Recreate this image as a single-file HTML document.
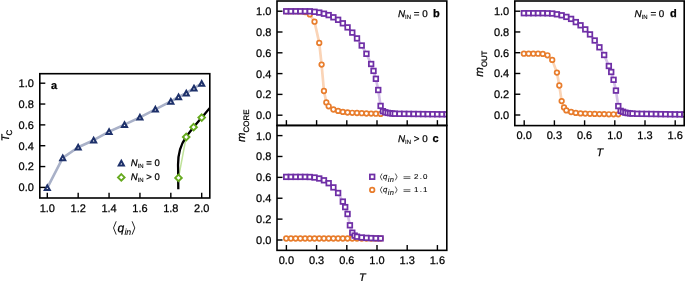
<!DOCTYPE html>
<html><head><meta charset="utf-8"><title>figure</title>
<style>
html,body{margin:0;padding:0;background:#fff;}
body{width:685px;height:281px;overflow:hidden;}
svg{display:block;will-change:transform;}
text{font-family:'Liberation Sans', sans-serif;fill:#000;stroke:#000;stroke-width:0.25px;text-rendering:geometricPrecision;}
</style></head><body>
<svg width="685" height="281" viewBox="0 0 685 281" font-family="Liberation Sans, sans-serif">
<clipPath id="ca"><rect x="39.8" y="73.7" width="170.0" height="124.3"/></clipPath>
<g clip-path="url(#ca)">
<polyline points="47.30,187.80 62.74,157.90 78.18,147.30 93.62,140.20 109.06,131.60 124.50,124.70 139.94,117.30 155.38,109.30 170.82,101.40 178.54,96.90 186.26,93.10 193.98,88.20 201.70,83.50" fill="none" stroke="#a9b1c8" stroke-width="2.6" stroke-linejoin="round" stroke-linecap="round"/>
<polyline points="178.50,177.90 186.20,137.00 193.60,127.20 201.70,117.60" fill="none" stroke="#bfe29a" stroke-width="1.5" stroke-linejoin="round" stroke-linecap="round"/>
<path d="M178.3,189.2 L178.1,168 C177.6,156 179.5,146 186.0,137.2 C188.5,133.6 191,130.2 193.6,127.2 C196.2,124 199,120.8 201.7,117.6 C204.5,114.3 207,111.2 210.5,107.2" fill="none" stroke="#000" stroke-width="2.3"/>
<path d="M47.30,185.45 L49.85,190.10 L44.75,190.10 Z" fill="#fff" stroke="#1d306a" stroke-width="2.0" stroke-linejoin="miter"/>
<path d="M62.74,155.55 L65.29,160.20 L60.19,160.20 Z" fill="#fff" stroke="#1d306a" stroke-width="2.0" stroke-linejoin="miter"/>
<path d="M78.18,144.95 L80.73,149.60 L75.63,149.60 Z" fill="#fff" stroke="#1d306a" stroke-width="2.0" stroke-linejoin="miter"/>
<path d="M93.62,137.85 L96.17,142.50 L91.07,142.50 Z" fill="#fff" stroke="#1d306a" stroke-width="2.0" stroke-linejoin="miter"/>
<path d="M109.06,129.25 L111.61,133.90 L106.51,133.90 Z" fill="#fff" stroke="#1d306a" stroke-width="2.0" stroke-linejoin="miter"/>
<path d="M124.50,122.35 L127.05,127.00 L121.95,127.00 Z" fill="#fff" stroke="#1d306a" stroke-width="2.0" stroke-linejoin="miter"/>
<path d="M139.94,114.95 L142.49,119.60 L137.39,119.60 Z" fill="#fff" stroke="#1d306a" stroke-width="2.0" stroke-linejoin="miter"/>
<path d="M155.38,106.95 L157.93,111.60 L152.83,111.60 Z" fill="#fff" stroke="#1d306a" stroke-width="2.0" stroke-linejoin="miter"/>
<path d="M170.82,99.05 L173.37,103.70 L168.27,103.70 Z" fill="#fff" stroke="#1d306a" stroke-width="2.0" stroke-linejoin="miter"/>
<path d="M178.54,94.55 L181.09,99.20 L175.99,99.20 Z" fill="#fff" stroke="#1d306a" stroke-width="2.0" stroke-linejoin="miter"/>
<path d="M186.26,90.75 L188.81,95.40 L183.71,95.40 Z" fill="#fff" stroke="#1d306a" stroke-width="2.0" stroke-linejoin="miter"/>
<path d="M193.98,85.85 L196.53,90.50 L191.43,90.50 Z" fill="#fff" stroke="#1d306a" stroke-width="2.0" stroke-linejoin="miter"/>
<path d="M201.70,81.15 L204.25,85.80 L199.15,85.80 Z" fill="#fff" stroke="#1d306a" stroke-width="2.0" stroke-linejoin="miter"/>
<path d="M178.50,174.60 L181.80,177.90 L178.50,181.20 L175.20,177.90 Z" fill="#fff" stroke="#66aa1f" stroke-width="1.9" stroke-linejoin="miter"/>
<path d="M186.20,133.70 L189.50,137.00 L186.20,140.30 L182.90,137.00 Z" fill="#fff" stroke="#66aa1f" stroke-width="1.9" stroke-linejoin="miter"/>
<path d="M193.60,123.90 L196.90,127.20 L193.60,130.50 L190.30,127.20 Z" fill="#fff" stroke="#66aa1f" stroke-width="1.9" stroke-linejoin="miter"/>
<path d="M201.70,114.30 L205.00,117.60 L201.70,120.90 L198.40,117.60 Z" fill="#fff" stroke="#66aa1f" stroke-width="1.9" stroke-linejoin="miter"/>
</g>
<rect x="39.8" y="73.7" width="170.00" height="124.30" fill="none" stroke="#000" stroke-width="1.6"/>
<line x1="39.80" y1="187.40" x2="45.30" y2="187.40" stroke="#000" stroke-width="1.4"/>
<text x="33.90" y="191.30" font-size="11" text-anchor="end" >0.0</text>
<line x1="39.80" y1="166.56" x2="45.30" y2="166.56" stroke="#000" stroke-width="1.4"/>
<text x="33.90" y="170.46" font-size="11" text-anchor="end" >0.2</text>
<line x1="39.80" y1="145.72" x2="45.30" y2="145.72" stroke="#000" stroke-width="1.4"/>
<text x="33.90" y="149.62" font-size="11" text-anchor="end" >0.4</text>
<line x1="39.80" y1="124.88" x2="45.30" y2="124.88" stroke="#000" stroke-width="1.4"/>
<text x="33.90" y="128.78" font-size="11" text-anchor="end" >0.6</text>
<line x1="39.80" y1="104.04" x2="45.30" y2="104.04" stroke="#000" stroke-width="1.4"/>
<text x="33.90" y="107.94" font-size="11" text-anchor="end" >0.8</text>
<line x1="39.80" y1="83.20" x2="45.30" y2="83.20" stroke="#000" stroke-width="1.4"/>
<text x="33.90" y="87.10" font-size="11" text-anchor="end" >1.0</text>
<line x1="47.30" y1="192.70" x2="47.30" y2="198.00" stroke="#000" stroke-width="1.4"/>
<text x="47.30" y="211.80" font-size="11" text-anchor="middle" >1.0</text>
<line x1="78.18" y1="192.70" x2="78.18" y2="198.00" stroke="#000" stroke-width="1.4"/>
<text x="78.18" y="211.80" font-size="11" text-anchor="middle" >1.2</text>
<line x1="109.06" y1="192.70" x2="109.06" y2="198.00" stroke="#000" stroke-width="1.4"/>
<text x="109.06" y="211.80" font-size="11" text-anchor="middle" >1.4</text>
<line x1="139.94" y1="192.70" x2="139.94" y2="198.00" stroke="#000" stroke-width="1.4"/>
<text x="139.94" y="211.80" font-size="11" text-anchor="middle" >1.6</text>
<line x1="170.82" y1="192.70" x2="170.82" y2="198.00" stroke="#000" stroke-width="1.4"/>
<text x="170.82" y="211.80" font-size="11" text-anchor="middle" >1.8</text>
<line x1="201.70" y1="192.70" x2="201.70" y2="198.00" stroke="#000" stroke-width="1.4"/>
<text x="201.70" y="211.80" font-size="11" text-anchor="middle" >2.0</text>
<text x="51.00" y="88.70" font-size="11" text-anchor="start" font-weight="bold">a</text>
<path d="M121.30,160.85 L123.85,165.50 L118.75,165.50 Z" fill="#fff" stroke="#1d306a" stroke-width="2.0" stroke-linejoin="miter"/>
<path d="M121.30,174.10 L124.60,177.40 L121.30,180.70 L118.00,177.40 Z" fill="#fff" stroke="#66aa1f" stroke-width="1.9" stroke-linejoin="miter"/>
<text x="130.80" y="165.50" font-size="9.5"><tspan font-style="italic">N</tspan><tspan font-size="6" dy="2.2" style="stroke-width:0.12px">IN</tspan><tspan dy="-2.2"> = 0</tspan></text>
<text x="130.80" y="179.90" font-size="9.5"><tspan font-style="italic">N</tspan><tspan font-size="6" dy="2.2" style="stroke-width:0.12px">IN</tspan><tspan dy="-2.2"> &gt; 0</tspan></text>
<text transform="translate(8.6,141.3) rotate(-90)" font-size="11"><tspan font-style="italic">T</tspan><tspan font-size="8" dy="3.0" dx="-0.9">C</tspan></text>
<polyline points="116.20,221.30 113.50,227.95 116.20,234.60" fill="none" stroke="#000" stroke-width="0.85"/>
<polyline points="132.10,221.30 134.80,227.95 132.10,234.60" fill="none" stroke="#000" stroke-width="0.85"/>
<text x="117.4" y="231.7" font-size="12"><tspan font-style="italic">q</tspan><tspan font-style="italic" font-size="8.8" dy="3.0" dx="0.3" style="stroke-width:0.1px">in</tspan></text>
<clipPath id="cb"><rect x="277.0" y="1.0" width="169.80" height="124.45"/></clipPath>
<g clip-path="url(#cb)">
<polyline points="286.20,11.30 290.92,11.30 295.64,11.30 300.36,11.40 305.08,12.00 309.80,14.40 314.52,21.70 319.24,42.90 321.60,64.60 323.96,91.00 326.32,102.40 328.68,106.30 333.40,109.50 338.12,110.90 342.84,111.90 347.56,112.50 352.28,112.80 357.00,113.00 361.72,113.20 366.44,113.50 371.16,113.60 375.88,113.70 380.60,113.90" fill="none" stroke="#fad4b7" stroke-width="2.7" stroke-linejoin="round" stroke-linecap="round"/>
<circle cx="286.20" cy="11.30" r="2.3" fill="#fff" stroke="#e87d2d" stroke-width="1.7"/>
<circle cx="290.92" cy="11.30" r="2.3" fill="#fff" stroke="#e87d2d" stroke-width="1.7"/>
<circle cx="295.64" cy="11.30" r="2.3" fill="#fff" stroke="#e87d2d" stroke-width="1.7"/>
<circle cx="300.36" cy="11.40" r="2.3" fill="#fff" stroke="#e87d2d" stroke-width="1.7"/>
<circle cx="305.08" cy="12.00" r="2.3" fill="#fff" stroke="#e87d2d" stroke-width="1.7"/>
<circle cx="309.80" cy="14.40" r="2.3" fill="#fff" stroke="#e87d2d" stroke-width="1.7"/>
<circle cx="314.52" cy="21.70" r="2.3" fill="#fff" stroke="#e87d2d" stroke-width="1.7"/>
<circle cx="319.24" cy="42.90" r="2.3" fill="#fff" stroke="#e87d2d" stroke-width="1.7"/>
<circle cx="321.60" cy="64.60" r="2.3" fill="#fff" stroke="#e87d2d" stroke-width="1.7"/>
<circle cx="323.96" cy="91.00" r="2.3" fill="#fff" stroke="#e87d2d" stroke-width="1.7"/>
<circle cx="326.32" cy="102.40" r="2.3" fill="#fff" stroke="#e87d2d" stroke-width="1.7"/>
<circle cx="328.68" cy="106.30" r="2.3" fill="#fff" stroke="#e87d2d" stroke-width="1.7"/>
<circle cx="333.40" cy="109.50" r="2.3" fill="#fff" stroke="#e87d2d" stroke-width="1.7"/>
<circle cx="338.12" cy="110.90" r="2.3" fill="#fff" stroke="#e87d2d" stroke-width="1.7"/>
<circle cx="342.84" cy="111.90" r="2.3" fill="#fff" stroke="#e87d2d" stroke-width="1.7"/>
<circle cx="347.56" cy="112.50" r="2.3" fill="#fff" stroke="#e87d2d" stroke-width="1.7"/>
<circle cx="352.28" cy="112.80" r="2.3" fill="#fff" stroke="#e87d2d" stroke-width="1.7"/>
<circle cx="357.00" cy="113.00" r="2.3" fill="#fff" stroke="#e87d2d" stroke-width="1.7"/>
<circle cx="361.72" cy="113.20" r="2.3" fill="#fff" stroke="#e87d2d" stroke-width="1.7"/>
<circle cx="366.44" cy="113.50" r="2.3" fill="#fff" stroke="#e87d2d" stroke-width="1.7"/>
<circle cx="371.16" cy="113.60" r="2.3" fill="#fff" stroke="#e87d2d" stroke-width="1.7"/>
<circle cx="375.88" cy="113.70" r="2.3" fill="#fff" stroke="#e87d2d" stroke-width="1.7"/>
<circle cx="380.60" cy="113.90" r="2.3" fill="#fff" stroke="#e87d2d" stroke-width="1.7"/>
</g>
<g clip-path="url(#cb)">
<polyline points="286.20,11.30 290.92,11.30 295.64,11.30 300.36,11.30 305.08,11.30 309.80,11.30 314.52,11.80 319.24,12.60 323.96,13.70 328.68,15.10 333.40,17.30 338.12,19.80 342.84,23.30 347.56,27.40 352.28,32.60 357.00,38.40 361.72,45.50 366.44,53.80 371.16,64.00 373.52,70.90 375.88,78.80 378.24,90.00 380.60,105.90 382.96,111.20 385.32,112.30 387.68,112.90 390.04,113.20 392.40,113.50 394.76,113.70 399.48,113.80 404.20,113.86 408.92,113.91 413.64,113.97 418.36,114.02 423.08,114.08 427.80,114.13 432.52,114.19 437.24,114.24 441.96,114.30 446.68,114.30 451.40,114.30" fill="none" stroke="#d3bfe6" stroke-width="2.7" stroke-linejoin="round" stroke-linecap="round"/>
<rect x="283.90" y="9.00" width="4.6" height="4.6" fill="#fff" stroke="#6f2fa6" stroke-width="1.75"/>
<rect x="288.62" y="9.00" width="4.6" height="4.6" fill="#fff" stroke="#6f2fa6" stroke-width="1.75"/>
<rect x="293.34" y="9.00" width="4.6" height="4.6" fill="#fff" stroke="#6f2fa6" stroke-width="1.75"/>
<rect x="298.06" y="9.00" width="4.6" height="4.6" fill="#fff" stroke="#6f2fa6" stroke-width="1.75"/>
<rect x="302.78" y="9.00" width="4.6" height="4.6" fill="#fff" stroke="#6f2fa6" stroke-width="1.75"/>
<rect x="307.50" y="9.00" width="4.6" height="4.6" fill="#fff" stroke="#6f2fa6" stroke-width="1.75"/>
<rect x="312.22" y="9.50" width="4.6" height="4.6" fill="#fff" stroke="#6f2fa6" stroke-width="1.75"/>
<rect x="316.94" y="10.30" width="4.6" height="4.6" fill="#fff" stroke="#6f2fa6" stroke-width="1.75"/>
<rect x="321.66" y="11.40" width="4.6" height="4.6" fill="#fff" stroke="#6f2fa6" stroke-width="1.75"/>
<rect x="326.38" y="12.80" width="4.6" height="4.6" fill="#fff" stroke="#6f2fa6" stroke-width="1.75"/>
<rect x="331.10" y="15.00" width="4.6" height="4.6" fill="#fff" stroke="#6f2fa6" stroke-width="1.75"/>
<rect x="335.82" y="17.50" width="4.6" height="4.6" fill="#fff" stroke="#6f2fa6" stroke-width="1.75"/>
<rect x="340.54" y="21.00" width="4.6" height="4.6" fill="#fff" stroke="#6f2fa6" stroke-width="1.75"/>
<rect x="345.26" y="25.10" width="4.6" height="4.6" fill="#fff" stroke="#6f2fa6" stroke-width="1.75"/>
<rect x="349.98" y="30.30" width="4.6" height="4.6" fill="#fff" stroke="#6f2fa6" stroke-width="1.75"/>
<rect x="354.70" y="36.10" width="4.6" height="4.6" fill="#fff" stroke="#6f2fa6" stroke-width="1.75"/>
<rect x="359.42" y="43.20" width="4.6" height="4.6" fill="#fff" stroke="#6f2fa6" stroke-width="1.75"/>
<rect x="364.14" y="51.50" width="4.6" height="4.6" fill="#fff" stroke="#6f2fa6" stroke-width="1.75"/>
<rect x="368.86" y="61.70" width="4.6" height="4.6" fill="#fff" stroke="#6f2fa6" stroke-width="1.75"/>
<rect x="371.22" y="68.60" width="4.6" height="4.6" fill="#fff" stroke="#6f2fa6" stroke-width="1.75"/>
<rect x="373.58" y="76.50" width="4.6" height="4.6" fill="#fff" stroke="#6f2fa6" stroke-width="1.75"/>
<rect x="375.94" y="87.70" width="4.6" height="4.6" fill="#fff" stroke="#6f2fa6" stroke-width="1.75"/>
<rect x="378.30" y="103.60" width="4.6" height="4.6" fill="#fff" stroke="#6f2fa6" stroke-width="1.75"/>
<rect x="380.66" y="108.90" width="4.6" height="4.6" fill="#fff" stroke="#6f2fa6" stroke-width="1.75"/>
<rect x="383.02" y="110.00" width="4.6" height="4.6" fill="#fff" stroke="#6f2fa6" stroke-width="1.75"/>
<rect x="385.38" y="110.60" width="4.6" height="4.6" fill="#fff" stroke="#6f2fa6" stroke-width="1.75"/>
<rect x="387.74" y="110.90" width="4.6" height="4.6" fill="#fff" stroke="#6f2fa6" stroke-width="1.75"/>
<rect x="390.10" y="111.20" width="4.6" height="4.6" fill="#fff" stroke="#6f2fa6" stroke-width="1.75"/>
<rect x="392.46" y="111.40" width="4.6" height="4.6" fill="#fff" stroke="#6f2fa6" stroke-width="1.75"/>
<rect x="397.18" y="111.50" width="4.6" height="4.6" fill="#fff" stroke="#6f2fa6" stroke-width="1.75"/>
<rect x="401.90" y="111.56" width="4.6" height="4.6" fill="#fff" stroke="#6f2fa6" stroke-width="1.75"/>
<rect x="406.62" y="111.61" width="4.6" height="4.6" fill="#fff" stroke="#6f2fa6" stroke-width="1.75"/>
<rect x="411.34" y="111.67" width="4.6" height="4.6" fill="#fff" stroke="#6f2fa6" stroke-width="1.75"/>
<rect x="416.06" y="111.72" width="4.6" height="4.6" fill="#fff" stroke="#6f2fa6" stroke-width="1.75"/>
<rect x="420.78" y="111.78" width="4.6" height="4.6" fill="#fff" stroke="#6f2fa6" stroke-width="1.75"/>
<rect x="425.50" y="111.83" width="4.6" height="4.6" fill="#fff" stroke="#6f2fa6" stroke-width="1.75"/>
<rect x="430.22" y="111.89" width="4.6" height="4.6" fill="#fff" stroke="#6f2fa6" stroke-width="1.75"/>
<rect x="434.94" y="111.94" width="4.6" height="4.6" fill="#fff" stroke="#6f2fa6" stroke-width="1.75"/>
<rect x="439.66" y="112.00" width="4.6" height="4.6" fill="#fff" stroke="#6f2fa6" stroke-width="1.75"/>
<rect x="444.38" y="112.00" width="4.6" height="4.6" fill="#fff" stroke="#6f2fa6" stroke-width="1.75"/>
<rect x="449.10" y="112.00" width="4.6" height="4.6" fill="#fff" stroke="#6f2fa6" stroke-width="1.75"/>
</g>
<rect x="277.0" y="1.0" width="169.80" height="124.45" fill="none" stroke="#000" stroke-width="1.6"/>
<line x1="277.00" y1="115.20" x2="282.50" y2="115.20" stroke="#000" stroke-width="1.4"/>
<text x="271.40" y="119.10" font-size="11" text-anchor="end" >0.0</text>
<line x1="277.00" y1="94.40" x2="282.50" y2="94.40" stroke="#000" stroke-width="1.4"/>
<text x="271.40" y="98.30" font-size="11" text-anchor="end" >0.2</text>
<line x1="277.00" y1="73.60" x2="282.50" y2="73.60" stroke="#000" stroke-width="1.4"/>
<text x="271.40" y="77.50" font-size="11" text-anchor="end" >0.4</text>
<line x1="277.00" y1="52.80" x2="282.50" y2="52.80" stroke="#000" stroke-width="1.4"/>
<text x="271.40" y="56.70" font-size="11" text-anchor="end" >0.6</text>
<line x1="277.00" y1="32.00" x2="282.50" y2="32.00" stroke="#000" stroke-width="1.4"/>
<text x="271.40" y="35.90" font-size="11" text-anchor="end" >0.8</text>
<line x1="277.00" y1="11.20" x2="282.50" y2="11.20" stroke="#000" stroke-width="1.4"/>
<text x="271.40" y="15.10" font-size="11" text-anchor="end" >1.0</text>
<line x1="286.40" y1="120.15" x2="286.40" y2="125.45" stroke="#000" stroke-width="1.4"/>
<line x1="316.60" y1="120.15" x2="316.60" y2="125.45" stroke="#000" stroke-width="1.4"/>
<line x1="346.80" y1="120.15" x2="346.80" y2="125.45" stroke="#000" stroke-width="1.4"/>
<line x1="377.00" y1="120.15" x2="377.00" y2="125.45" stroke="#000" stroke-width="1.4"/>
<line x1="407.20" y1="120.15" x2="407.20" y2="125.45" stroke="#000" stroke-width="1.4"/>
<line x1="437.40" y1="120.15" x2="437.40" y2="125.45" stroke="#000" stroke-width="1.4"/>
<text x="398.00" y="16.50" font-size="9.8"><tspan font-style="italic">N</tspan><tspan font-size="6" dy="2.2" style="stroke-width:0.12px">IN</tspan><tspan dy="-2.2"> = 0</tspan></text>
<text x="433.00" y="16.50" font-size="11" text-anchor="start" font-weight="bold">b</text>
<clipPath id="cc"><rect x="277.0" y="125.45" width="169.80" height="124.90"/></clipPath>
<g clip-path="url(#cc)">
<polyline points="286.20,238.50 290.92,238.50 295.64,238.50 300.36,238.50 305.08,238.50 309.80,238.50 314.52,238.50 319.24,238.50 323.96,238.50 328.68,238.50 333.40,238.50 338.12,238.50 342.84,238.50 347.56,238.50 352.28,238.50 357.00,238.50 361.72,238.50 366.44,238.50 371.16,238.50 375.88,238.50 380.60,238.50" fill="none" stroke="#fad4b7" stroke-width="2.7" stroke-linejoin="round" stroke-linecap="round"/>
<circle cx="286.20" cy="238.50" r="2.3" fill="#fff" stroke="#e87d2d" stroke-width="1.7"/>
<circle cx="290.92" cy="238.50" r="2.3" fill="#fff" stroke="#e87d2d" stroke-width="1.7"/>
<circle cx="295.64" cy="238.50" r="2.3" fill="#fff" stroke="#e87d2d" stroke-width="1.7"/>
<circle cx="300.36" cy="238.50" r="2.3" fill="#fff" stroke="#e87d2d" stroke-width="1.7"/>
<circle cx="305.08" cy="238.50" r="2.3" fill="#fff" stroke="#e87d2d" stroke-width="1.7"/>
<circle cx="309.80" cy="238.50" r="2.3" fill="#fff" stroke="#e87d2d" stroke-width="1.7"/>
<circle cx="314.52" cy="238.50" r="2.3" fill="#fff" stroke="#e87d2d" stroke-width="1.7"/>
<circle cx="319.24" cy="238.50" r="2.3" fill="#fff" stroke="#e87d2d" stroke-width="1.7"/>
<circle cx="323.96" cy="238.50" r="2.3" fill="#fff" stroke="#e87d2d" stroke-width="1.7"/>
<circle cx="328.68" cy="238.50" r="2.3" fill="#fff" stroke="#e87d2d" stroke-width="1.7"/>
<circle cx="333.40" cy="238.50" r="2.3" fill="#fff" stroke="#e87d2d" stroke-width="1.7"/>
<circle cx="338.12" cy="238.50" r="2.3" fill="#fff" stroke="#e87d2d" stroke-width="1.7"/>
<circle cx="342.84" cy="238.50" r="2.3" fill="#fff" stroke="#e87d2d" stroke-width="1.7"/>
<circle cx="347.56" cy="238.50" r="2.3" fill="#fff" stroke="#e87d2d" stroke-width="1.7"/>
<circle cx="352.28" cy="238.50" r="2.3" fill="#fff" stroke="#e87d2d" stroke-width="1.7"/>
<circle cx="357.00" cy="238.50" r="2.3" fill="#fff" stroke="#e87d2d" stroke-width="1.7"/>
<circle cx="361.72" cy="238.50" r="2.3" fill="#fff" stroke="#e87d2d" stroke-width="1.7"/>
<circle cx="366.44" cy="238.50" r="2.3" fill="#fff" stroke="#e87d2d" stroke-width="1.7"/>
<circle cx="371.16" cy="238.50" r="2.3" fill="#fff" stroke="#e87d2d" stroke-width="1.7"/>
<circle cx="375.88" cy="238.50" r="2.3" fill="#fff" stroke="#e87d2d" stroke-width="1.7"/>
<circle cx="380.60" cy="238.50" r="2.3" fill="#fff" stroke="#e87d2d" stroke-width="1.7"/>
</g>
<g clip-path="url(#cc)">
<polyline points="286.20,176.90 290.92,176.90 295.64,176.90 300.36,176.90 305.08,176.90 309.80,177.00 314.52,177.50 319.24,178.50 323.96,180.30 328.68,183.20 333.40,187.40 338.12,193.00 342.84,201.60 345.20,207.10 347.56,214.00 349.92,225.30 352.28,232.70 354.64,235.60 357.00,236.70 361.72,237.50 366.44,237.90 371.16,238.10 375.88,238.30 380.60,238.40" fill="none" stroke="#d3bfe6" stroke-width="2.7" stroke-linejoin="round" stroke-linecap="round"/>
<rect x="283.90" y="174.60" width="4.6" height="4.6" fill="#fff" stroke="#6f2fa6" stroke-width="1.75"/>
<rect x="288.62" y="174.60" width="4.6" height="4.6" fill="#fff" stroke="#6f2fa6" stroke-width="1.75"/>
<rect x="293.34" y="174.60" width="4.6" height="4.6" fill="#fff" stroke="#6f2fa6" stroke-width="1.75"/>
<rect x="298.06" y="174.60" width="4.6" height="4.6" fill="#fff" stroke="#6f2fa6" stroke-width="1.75"/>
<rect x="302.78" y="174.60" width="4.6" height="4.6" fill="#fff" stroke="#6f2fa6" stroke-width="1.75"/>
<rect x="307.50" y="174.70" width="4.6" height="4.6" fill="#fff" stroke="#6f2fa6" stroke-width="1.75"/>
<rect x="312.22" y="175.20" width="4.6" height="4.6" fill="#fff" stroke="#6f2fa6" stroke-width="1.75"/>
<rect x="316.94" y="176.20" width="4.6" height="4.6" fill="#fff" stroke="#6f2fa6" stroke-width="1.75"/>
<rect x="321.66" y="178.00" width="4.6" height="4.6" fill="#fff" stroke="#6f2fa6" stroke-width="1.75"/>
<rect x="326.38" y="180.90" width="4.6" height="4.6" fill="#fff" stroke="#6f2fa6" stroke-width="1.75"/>
<rect x="331.10" y="185.10" width="4.6" height="4.6" fill="#fff" stroke="#6f2fa6" stroke-width="1.75"/>
<rect x="335.82" y="190.70" width="4.6" height="4.6" fill="#fff" stroke="#6f2fa6" stroke-width="1.75"/>
<rect x="340.54" y="199.30" width="4.6" height="4.6" fill="#fff" stroke="#6f2fa6" stroke-width="1.75"/>
<rect x="342.90" y="204.80" width="4.6" height="4.6" fill="#fff" stroke="#6f2fa6" stroke-width="1.75"/>
<rect x="345.26" y="211.70" width="4.6" height="4.6" fill="#fff" stroke="#6f2fa6" stroke-width="1.75"/>
<rect x="347.62" y="223.00" width="4.6" height="4.6" fill="#fff" stroke="#6f2fa6" stroke-width="1.75"/>
<rect x="349.98" y="230.40" width="4.6" height="4.6" fill="#fff" stroke="#6f2fa6" stroke-width="1.75"/>
<rect x="352.34" y="233.30" width="4.6" height="4.6" fill="#fff" stroke="#6f2fa6" stroke-width="1.75"/>
<rect x="354.70" y="234.40" width="4.6" height="4.6" fill="#fff" stroke="#6f2fa6" stroke-width="1.75"/>
<rect x="359.42" y="235.20" width="4.6" height="4.6" fill="#fff" stroke="#6f2fa6" stroke-width="1.75"/>
<rect x="364.14" y="235.60" width="4.6" height="4.6" fill="#fff" stroke="#6f2fa6" stroke-width="1.75"/>
<rect x="368.86" y="235.80" width="4.6" height="4.6" fill="#fff" stroke="#6f2fa6" stroke-width="1.75"/>
<rect x="373.58" y="236.00" width="4.6" height="4.6" fill="#fff" stroke="#6f2fa6" stroke-width="1.75"/>
<rect x="378.30" y="236.10" width="4.6" height="4.6" fill="#fff" stroke="#6f2fa6" stroke-width="1.75"/>
</g>
<rect x="277.0" y="125.45" width="169.80" height="124.90" fill="none" stroke="#000" stroke-width="1.6"/>
<line x1="277.00" y1="240.00" x2="282.50" y2="240.00" stroke="#000" stroke-width="1.4"/>
<text x="271.40" y="243.90" font-size="11" text-anchor="end" >0.0</text>
<line x1="277.00" y1="219.12" x2="282.50" y2="219.12" stroke="#000" stroke-width="1.4"/>
<text x="271.40" y="223.02" font-size="11" text-anchor="end" >0.2</text>
<line x1="277.00" y1="198.24" x2="282.50" y2="198.24" stroke="#000" stroke-width="1.4"/>
<text x="271.40" y="202.14" font-size="11" text-anchor="end" >0.4</text>
<line x1="277.00" y1="177.36" x2="282.50" y2="177.36" stroke="#000" stroke-width="1.4"/>
<text x="271.40" y="181.26" font-size="11" text-anchor="end" >0.6</text>
<line x1="277.00" y1="156.48" x2="282.50" y2="156.48" stroke="#000" stroke-width="1.4"/>
<text x="271.40" y="160.38" font-size="11" text-anchor="end" >0.8</text>
<line x1="277.00" y1="135.60" x2="282.50" y2="135.60" stroke="#000" stroke-width="1.4"/>
<text x="271.40" y="139.50" font-size="11" text-anchor="end" >1.0</text>
<line x1="286.40" y1="245.05" x2="286.40" y2="250.35" stroke="#000" stroke-width="1.4"/>
<text x="286.40" y="264.30" font-size="11" text-anchor="middle" >0.0</text>
<line x1="316.60" y1="245.05" x2="316.60" y2="250.35" stroke="#000" stroke-width="1.4"/>
<text x="316.60" y="264.30" font-size="11" text-anchor="middle" >0.3</text>
<line x1="346.80" y1="245.05" x2="346.80" y2="250.35" stroke="#000" stroke-width="1.4"/>
<text x="346.80" y="264.30" font-size="11" text-anchor="middle" >0.6</text>
<line x1="377.00" y1="245.05" x2="377.00" y2="250.35" stroke="#000" stroke-width="1.4"/>
<text x="377.00" y="264.30" font-size="11" text-anchor="middle" >1.0</text>
<line x1="407.20" y1="245.05" x2="407.20" y2="250.35" stroke="#000" stroke-width="1.4"/>
<text x="407.20" y="264.30" font-size="11" text-anchor="middle" >1.3</text>
<line x1="437.40" y1="245.05" x2="437.40" y2="250.35" stroke="#000" stroke-width="1.4"/>
<text x="437.40" y="264.30" font-size="11" text-anchor="middle" >1.6</text>
<text x="398.00" y="141.90" font-size="9.8"><tspan font-style="italic">N</tspan><tspan font-size="6" dy="2.2" style="stroke-width:0.12px">IN</tspan><tspan dy="-2.2"> &gt; 0</tspan></text>
<text x="432.60" y="141.90" font-size="11" text-anchor="start" font-weight="bold">c</text>
<rect x="369.90" y="174.50" width="4.6" height="4.6" fill="#fff" stroke="#6f2fa6" stroke-width="1.75"/>
<circle cx="372.20" cy="189.90" r="2.3" fill="#fff" stroke="#e87d2d" stroke-width="1.7"/>
<polyline points="382.10,173.50 380.30,176.90 382.10,180.30" fill="none" stroke="#000" stroke-width="0.65"/>
<polyline points="395.30,173.50 397.10,176.90 395.30,180.30" fill="none" stroke="#000" stroke-width="0.65"/>
<text x="382.9" y="178.5" font-size="7.7" font-style="italic" style="stroke-width:0.1px">q</text>
<text x="387.7" y="181.6" font-size="7.5" font-style="italic" letter-spacing="0.45" style="stroke-width:0.1px">in</text>
<path d="M403.5,176.75H410.4M403.5,178.45H410.4" stroke="#000" stroke-width="0.6" fill="none"/>
<text transform="translate(414.1,178.5) scale(1.12,1)" font-size="7.1" letter-spacing="1.0" style="stroke-width:0.1px">2.0</text>
<polyline points="382.10,186.50 380.30,189.90 382.10,193.30" fill="none" stroke="#000" stroke-width="0.65"/>
<polyline points="395.30,186.50 397.10,189.90 395.30,193.30" fill="none" stroke="#000" stroke-width="0.65"/>
<text x="382.9" y="191.5" font-size="7.7" font-style="italic" style="stroke-width:0.1px">q</text>
<text x="387.7" y="194.6" font-size="7.5" font-style="italic" letter-spacing="0.45" style="stroke-width:0.1px">in</text>
<path d="M403.5,189.75H410.4M403.5,191.45H410.4" stroke="#000" stroke-width="0.6" fill="none"/>
<text transform="translate(414.1,191.5) scale(1.12,1)" font-size="7.1" letter-spacing="1.0" style="stroke-width:0.1px">1.1</text>
<text transform="translate(244.6,141.9) rotate(-90)" font-size="11.4"><tspan font-style="italic">m</tspan><tspan font-size="7.9" dy="4.1">CORE</tspan></text>
<text x="359.00" y="280.50" font-size="10.9" text-anchor="start" font-style="italic">T</text>
<clipPath id="cd"><rect x="514.8" y="1.0" width="169.40" height="124.60"/></clipPath>
<g clip-path="url(#cd)">
<polyline points="523.90,53.70 528.62,53.70 533.34,53.70 538.06,53.70 542.78,53.90 547.50,55.30 552.22,59.90 556.94,72.60 559.30,85.50 561.66,101.10 564.02,107.40 566.38,110.40 571.10,112.00 575.82,112.90 580.54,113.40 585.26,113.60 589.98,113.80 594.70,113.90 599.42,114.10 604.14,114.10 608.86,114.30 613.58,114.30 618.30,114.30" fill="none" stroke="#fad4b7" stroke-width="2.7" stroke-linejoin="round" stroke-linecap="round"/>
<circle cx="523.90" cy="53.70" r="2.3" fill="#fff" stroke="#e87d2d" stroke-width="1.7"/>
<circle cx="528.62" cy="53.70" r="2.3" fill="#fff" stroke="#e87d2d" stroke-width="1.7"/>
<circle cx="533.34" cy="53.70" r="2.3" fill="#fff" stroke="#e87d2d" stroke-width="1.7"/>
<circle cx="538.06" cy="53.70" r="2.3" fill="#fff" stroke="#e87d2d" stroke-width="1.7"/>
<circle cx="542.78" cy="53.90" r="2.3" fill="#fff" stroke="#e87d2d" stroke-width="1.7"/>
<circle cx="547.50" cy="55.30" r="2.3" fill="#fff" stroke="#e87d2d" stroke-width="1.7"/>
<circle cx="552.22" cy="59.90" r="2.3" fill="#fff" stroke="#e87d2d" stroke-width="1.7"/>
<circle cx="556.94" cy="72.60" r="2.3" fill="#fff" stroke="#e87d2d" stroke-width="1.7"/>
<circle cx="559.30" cy="85.50" r="2.3" fill="#fff" stroke="#e87d2d" stroke-width="1.7"/>
<circle cx="561.66" cy="101.10" r="2.3" fill="#fff" stroke="#e87d2d" stroke-width="1.7"/>
<circle cx="564.02" cy="107.40" r="2.3" fill="#fff" stroke="#e87d2d" stroke-width="1.7"/>
<circle cx="566.38" cy="110.40" r="2.3" fill="#fff" stroke="#e87d2d" stroke-width="1.7"/>
<circle cx="571.10" cy="112.00" r="2.3" fill="#fff" stroke="#e87d2d" stroke-width="1.7"/>
<circle cx="575.82" cy="112.90" r="2.3" fill="#fff" stroke="#e87d2d" stroke-width="1.7"/>
<circle cx="580.54" cy="113.40" r="2.3" fill="#fff" stroke="#e87d2d" stroke-width="1.7"/>
<circle cx="585.26" cy="113.60" r="2.3" fill="#fff" stroke="#e87d2d" stroke-width="1.7"/>
<circle cx="589.98" cy="113.80" r="2.3" fill="#fff" stroke="#e87d2d" stroke-width="1.7"/>
<circle cx="594.70" cy="113.90" r="2.3" fill="#fff" stroke="#e87d2d" stroke-width="1.7"/>
<circle cx="599.42" cy="114.10" r="2.3" fill="#fff" stroke="#e87d2d" stroke-width="1.7"/>
<circle cx="604.14" cy="114.10" r="2.3" fill="#fff" stroke="#e87d2d" stroke-width="1.7"/>
<circle cx="608.86" cy="114.30" r="2.3" fill="#fff" stroke="#e87d2d" stroke-width="1.7"/>
<circle cx="613.58" cy="114.30" r="2.3" fill="#fff" stroke="#e87d2d" stroke-width="1.7"/>
<circle cx="618.30" cy="114.30" r="2.3" fill="#fff" stroke="#e87d2d" stroke-width="1.7"/>
</g>
<g clip-path="url(#cd)">
<polyline points="523.90,13.20 528.62,13.20 533.34,13.20 538.06,13.20 542.78,13.20 547.50,13.30 552.22,13.50 556.94,14.30 561.66,15.30 566.38,16.90 571.10,18.90 575.82,22.10 580.54,25.30 585.26,29.40 589.98,34.40 594.70,40.50 599.42,47.30 604.14,55.00 608.86,66.00 611.22,72.00 613.58,79.80 615.94,90.60 618.30,106.10 620.66,110.90 623.02,111.80 625.38,112.70 627.74,113.10 630.10,113.40 632.46,113.60 637.18,113.80 641.90,113.87 646.62,113.93 651.34,114.00 656.06,114.07 660.78,114.13 665.50,114.20 670.22,114.27 674.94,114.33 679.66,114.40 684.38,114.40 689.10,114.40" fill="none" stroke="#d3bfe6" stroke-width="2.7" stroke-linejoin="round" stroke-linecap="round"/>
<rect x="521.60" y="10.90" width="4.6" height="4.6" fill="#fff" stroke="#6f2fa6" stroke-width="1.75"/>
<rect x="526.32" y="10.90" width="4.6" height="4.6" fill="#fff" stroke="#6f2fa6" stroke-width="1.75"/>
<rect x="531.04" y="10.90" width="4.6" height="4.6" fill="#fff" stroke="#6f2fa6" stroke-width="1.75"/>
<rect x="535.76" y="10.90" width="4.6" height="4.6" fill="#fff" stroke="#6f2fa6" stroke-width="1.75"/>
<rect x="540.48" y="10.90" width="4.6" height="4.6" fill="#fff" stroke="#6f2fa6" stroke-width="1.75"/>
<rect x="545.20" y="11.00" width="4.6" height="4.6" fill="#fff" stroke="#6f2fa6" stroke-width="1.75"/>
<rect x="549.92" y="11.20" width="4.6" height="4.6" fill="#fff" stroke="#6f2fa6" stroke-width="1.75"/>
<rect x="554.64" y="12.00" width="4.6" height="4.6" fill="#fff" stroke="#6f2fa6" stroke-width="1.75"/>
<rect x="559.36" y="13.00" width="4.6" height="4.6" fill="#fff" stroke="#6f2fa6" stroke-width="1.75"/>
<rect x="564.08" y="14.60" width="4.6" height="4.6" fill="#fff" stroke="#6f2fa6" stroke-width="1.75"/>
<rect x="568.80" y="16.60" width="4.6" height="4.6" fill="#fff" stroke="#6f2fa6" stroke-width="1.75"/>
<rect x="573.52" y="19.80" width="4.6" height="4.6" fill="#fff" stroke="#6f2fa6" stroke-width="1.75"/>
<rect x="578.24" y="23.00" width="4.6" height="4.6" fill="#fff" stroke="#6f2fa6" stroke-width="1.75"/>
<rect x="582.96" y="27.10" width="4.6" height="4.6" fill="#fff" stroke="#6f2fa6" stroke-width="1.75"/>
<rect x="587.68" y="32.10" width="4.6" height="4.6" fill="#fff" stroke="#6f2fa6" stroke-width="1.75"/>
<rect x="592.40" y="38.20" width="4.6" height="4.6" fill="#fff" stroke="#6f2fa6" stroke-width="1.75"/>
<rect x="597.12" y="45.00" width="4.6" height="4.6" fill="#fff" stroke="#6f2fa6" stroke-width="1.75"/>
<rect x="601.84" y="52.70" width="4.6" height="4.6" fill="#fff" stroke="#6f2fa6" stroke-width="1.75"/>
<rect x="606.56" y="63.70" width="4.6" height="4.6" fill="#fff" stroke="#6f2fa6" stroke-width="1.75"/>
<rect x="608.92" y="69.70" width="4.6" height="4.6" fill="#fff" stroke="#6f2fa6" stroke-width="1.75"/>
<rect x="611.28" y="77.50" width="4.6" height="4.6" fill="#fff" stroke="#6f2fa6" stroke-width="1.75"/>
<rect x="613.64" y="88.30" width="4.6" height="4.6" fill="#fff" stroke="#6f2fa6" stroke-width="1.75"/>
<rect x="616.00" y="103.80" width="4.6" height="4.6" fill="#fff" stroke="#6f2fa6" stroke-width="1.75"/>
<rect x="618.36" y="108.60" width="4.6" height="4.6" fill="#fff" stroke="#6f2fa6" stroke-width="1.75"/>
<rect x="620.72" y="109.50" width="4.6" height="4.6" fill="#fff" stroke="#6f2fa6" stroke-width="1.75"/>
<rect x="623.08" y="110.40" width="4.6" height="4.6" fill="#fff" stroke="#6f2fa6" stroke-width="1.75"/>
<rect x="625.44" y="110.80" width="4.6" height="4.6" fill="#fff" stroke="#6f2fa6" stroke-width="1.75"/>
<rect x="627.80" y="111.10" width="4.6" height="4.6" fill="#fff" stroke="#6f2fa6" stroke-width="1.75"/>
<rect x="630.16" y="111.30" width="4.6" height="4.6" fill="#fff" stroke="#6f2fa6" stroke-width="1.75"/>
<rect x="634.88" y="111.50" width="4.6" height="4.6" fill="#fff" stroke="#6f2fa6" stroke-width="1.75"/>
<rect x="639.60" y="111.57" width="4.6" height="4.6" fill="#fff" stroke="#6f2fa6" stroke-width="1.75"/>
<rect x="644.32" y="111.63" width="4.6" height="4.6" fill="#fff" stroke="#6f2fa6" stroke-width="1.75"/>
<rect x="649.04" y="111.70" width="4.6" height="4.6" fill="#fff" stroke="#6f2fa6" stroke-width="1.75"/>
<rect x="653.76" y="111.77" width="4.6" height="4.6" fill="#fff" stroke="#6f2fa6" stroke-width="1.75"/>
<rect x="658.48" y="111.83" width="4.6" height="4.6" fill="#fff" stroke="#6f2fa6" stroke-width="1.75"/>
<rect x="663.20" y="111.90" width="4.6" height="4.6" fill="#fff" stroke="#6f2fa6" stroke-width="1.75"/>
<rect x="667.92" y="111.97" width="4.6" height="4.6" fill="#fff" stroke="#6f2fa6" stroke-width="1.75"/>
<rect x="672.64" y="112.03" width="4.6" height="4.6" fill="#fff" stroke="#6f2fa6" stroke-width="1.75"/>
<rect x="677.36" y="112.10" width="4.6" height="4.6" fill="#fff" stroke="#6f2fa6" stroke-width="1.75"/>
<rect x="682.08" y="112.10" width="4.6" height="4.6" fill="#fff" stroke="#6f2fa6" stroke-width="1.75"/>
<rect x="686.80" y="112.10" width="4.6" height="4.6" fill="#fff" stroke="#6f2fa6" stroke-width="1.75"/>
</g>
<rect x="514.8" y="1.0" width="169.40" height="124.60" fill="none" stroke="#000" stroke-width="1.6"/>
<line x1="514.80" y1="115.00" x2="520.30" y2="115.00" stroke="#000" stroke-width="1.4"/>
<text x="509.20" y="118.90" font-size="11" text-anchor="end" >0.0</text>
<line x1="514.80" y1="94.24" x2="520.30" y2="94.24" stroke="#000" stroke-width="1.4"/>
<text x="509.20" y="98.14" font-size="11" text-anchor="end" >0.2</text>
<line x1="514.80" y1="73.48" x2="520.30" y2="73.48" stroke="#000" stroke-width="1.4"/>
<text x="509.20" y="77.38" font-size="11" text-anchor="end" >0.4</text>
<line x1="514.80" y1="52.72" x2="520.30" y2="52.72" stroke="#000" stroke-width="1.4"/>
<text x="509.20" y="56.62" font-size="11" text-anchor="end" >0.6</text>
<line x1="514.80" y1="31.96" x2="520.30" y2="31.96" stroke="#000" stroke-width="1.4"/>
<text x="509.20" y="35.86" font-size="11" text-anchor="end" >0.8</text>
<line x1="514.80" y1="11.20" x2="520.30" y2="11.20" stroke="#000" stroke-width="1.4"/>
<text x="509.20" y="15.10" font-size="11" text-anchor="end" >1.0</text>
<line x1="524.20" y1="120.30" x2="524.20" y2="125.60" stroke="#000" stroke-width="1.4"/>
<text x="524.20" y="139.40" font-size="11" text-anchor="middle" >0.0</text>
<line x1="554.40" y1="120.30" x2="554.40" y2="125.60" stroke="#000" stroke-width="1.4"/>
<text x="554.40" y="139.40" font-size="11" text-anchor="middle" >0.3</text>
<line x1="584.60" y1="120.30" x2="584.60" y2="125.60" stroke="#000" stroke-width="1.4"/>
<text x="584.60" y="139.40" font-size="11" text-anchor="middle" >0.6</text>
<line x1="614.80" y1="120.30" x2="614.80" y2="125.60" stroke="#000" stroke-width="1.4"/>
<text x="614.80" y="139.40" font-size="11" text-anchor="middle" >1.0</text>
<line x1="645.00" y1="120.30" x2="645.00" y2="125.60" stroke="#000" stroke-width="1.4"/>
<text x="645.00" y="139.40" font-size="11" text-anchor="middle" >1.3</text>
<line x1="675.20" y1="120.30" x2="675.20" y2="125.60" stroke="#000" stroke-width="1.4"/>
<text x="675.20" y="139.40" font-size="11" text-anchor="middle" >1.6</text>
<text x="634.60" y="16.60" font-size="9.8"><tspan font-style="italic">N</tspan><tspan font-size="6" dy="2.2" style="stroke-width:0.12px">IN</tspan><tspan dy="-2.2"> = 0</tspan></text>
<text x="670.00" y="16.60" font-size="11" text-anchor="start" font-weight="bold">d</text>
<text transform="translate(483.4,76.7) rotate(-90)" font-size="11.5"><tspan font-style="italic">m</tspan><tspan font-size="7.8" dy="4.0">OUT</tspan></text>
<text x="596.60" y="155.60" font-size="10.9" text-anchor="start" font-style="italic">T</text>
</svg>
</body></html>
